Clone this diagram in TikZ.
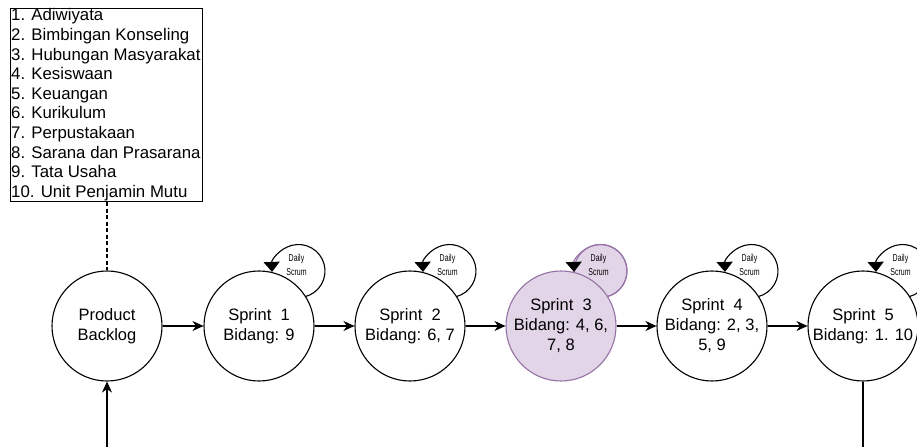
\documentclass[tikz,border=0pt]{standalone}
\usepackage{fontspec}
\setmainfont{Liberation Sans}
\usetikzlibrary{arrows.meta}
\definecolor{lav}{HTML}{E1D5E7}
\definecolor{purp}{HTML}{9673A6}
\tikzset{
 sprint/.style={circle, draw=black, fill=white, line width=1.1pt, minimum size=110pt, inner sep=0pt, align=center, font=\fontsize{16.5}{20}\selectfont},
 flow/.style={line width=1.1pt, -{Stealth[length=11pt,width=10pt,inset=3.5pt]}},
 selfloop/.style={line width=1.1pt, -{Triangle[length=10pt,width=16pt]}},
 dailytext/.style={inner sep=0pt, align=center, font=\fontsize{10}{13.5}\selectfont},
 listline/.style={anchor=base west, inner sep=0pt, font=\fontsize{16.8}{19.6}\selectfont},
}
\begin{document}
\begin{tikzpicture}[x=1pt,y=1pt]
\useasboundingbox (0,0) rectangle (917,447);
\fill[white] (0,0) rectangle (917,447);
\clip (0,0) rectangle (917,447);

% list box
\node[draw, line width=1.1pt, minimum width=192pt, minimum height=193pt, inner sep=0pt, anchor=north west] (list) at (10,439) {};
\foreach \t [count=\i from 0] in {1. Adiwiyata, 2. Bimbingan Konseling, 3. Hubungan Masyarakat, 4. Kesiswaan, 5. Keuangan, 6. Kurikulum, 7. Perpustakaan, 8. Sarana dan Prasarana, 9. Tata Usaha, 10. Unit Penjamin Mutu}
  \node[listline] (l\i) at (11, 426-19.6*\i) {\t};

% daily scrum centers
\coordinate (ds1) at (298.5,176);
\coordinate (ds2) at (449.5,176);
\coordinate (ds4) at (751.5,176);
\coordinate (ds5) at (902.5,176);
\node[circle, fill=lav, draw=purp, line width=1.1pt, minimum size=53pt, inner sep=0pt] (ds3) at (600.5,176) {};

% main circles
\node[sprint] (pb) at (107,121) {Product\\Backlog};
\node[sprint] (s1) at (259,121) {Sprint\ \ 1\\Bidang: 9};
\node[sprint] (s2) at (410,121) {Sprint\ \ 2\\Bidang: 6, 7};
\node[sprint, fill=lav, draw=purp] (s3) at (561,121) {Sprint\ \ 3\\Bidang: 4, 6,\\7, 8};
\node[sprint] (s4) at (712,121) {Sprint\ \ 4\\Bidang: 2, 3,\\5, 9};
\node[sprint] (s5) at (863,121) {Sprint\ \ 5\\Bidang: 1. 10};

% self loops (Daily Scrum)
\foreach \d in {ds1,ds2,ds4,ds5}
  \draw[selfloop] ([shift={(-75:26.5)}]\d) arc[start angle=-75, end angle=182, radius=26.5];
\draw[line width=1.1pt, purp, -{Triangle[length=10pt,width=16pt,color=black]}] ([shift={(-75:26.5)}]ds3.center) arc[start angle=-75, end angle=182, radius=26.5];

\foreach \d in {ds1,ds2,ds4,ds5}
  \node[dailytext] (t\d) at ([shift={(-2,6)}]\d) {\scalebox{0.7}[1]{Daily}\\\scalebox{0.7}[1]{Scrum}};
\node[dailytext] (tds3) at ([shift={(-2,6)}]ds3.center) {\scalebox{0.7}[1]{Daily}\\\scalebox{0.7}[1]{Scrum}};

% flow arrows
\draw[flow] (pb) -- (s1);
\draw[flow] (s1) -- (s2);
\draw[flow] (s2) -- (s3);
\draw[flow] (s3) -- (s4);
\draw[flow] (s4) -- (s5);

% dashed link to list
\draw[line width=1.1pt, dash pattern=on 4pt off 2.5pt] (list.south -| pb.north) -- (pb.north);

% bottom connectors
\coordinate (bin) at (107,0);
\coordinate (bout) at (863,0);
\draw[flow] (bin) -- (pb.south);
\draw[line width=1.1pt] (s5.south) -- (bout);
\end{tikzpicture}
\end{document}
